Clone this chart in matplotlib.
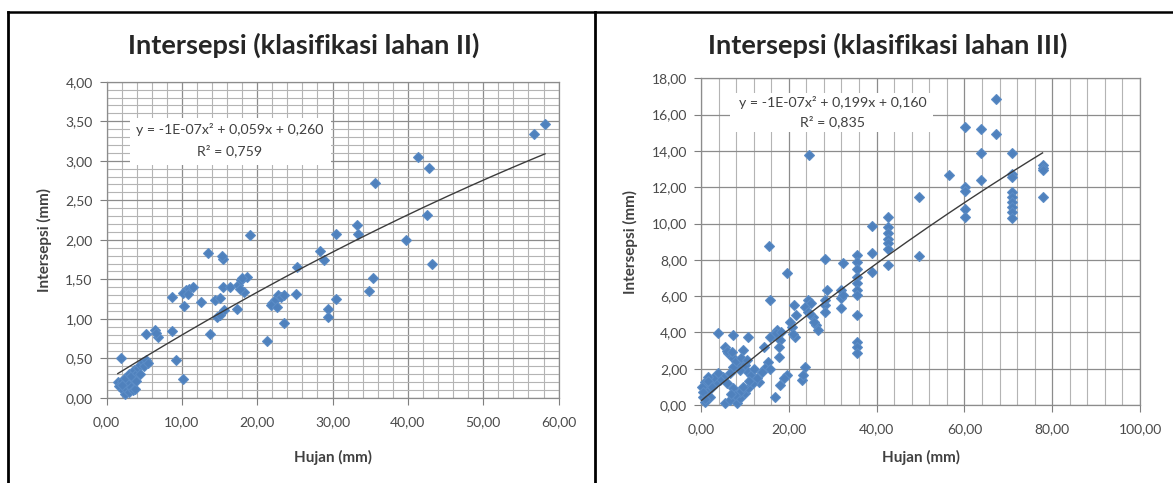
import numpy as np
import matplotlib
matplotlib.use('Agg')
import matplotlib.pyplot as plt
from matplotlib.ticker import MultipleLocator, FuncFormatter
from matplotlib.patches import Rectangle
from matplotlib.lines import Line2D

# ---------------- data ----------------
title_left = "Intersepsi (klasifikasi lahan II)"
title_right = "Intersepsi (klasifikasi lahan III)"
xlabel = "Hujan (mm)"
ylabel = "Intersepsi (mm)"
eq_left = ["y = -1E-07x² + 0,059x + 0,260", "R² = 0,759"]
eq_right = ["y = -1E-07x² + 0,199x + 0,160", "R² = 0,835"]

hujan_II = [1.5, 1.7, 2.0, 2.2, 2.4, 2.6, 2.8, 3.0, 3.2, 3.5, 3.8, 2.5, 3.0, 3.3, 3.6,
            4.0, 4.2, 4.5, 4.8, 5.0, 5.3, 5.5, 4.4, 3.9, 2.0, 1.9, 5.2, 6.4, 6.9, 6.6,
            8.65, 9.2, 10.2, 8.7, 10.3, 10.6, 10.2, 11.0, 11.5, 10.8, 12.6, 13.5, 15.4,
            15.3, 13.8, 14.4, 14.6, 15.1, 15.6, 15.4, 15.0, 16.4, 17.3, 17.5, 17.9, 18.6,
            18.2, 17.7, 18.0, 19.0, 21.3, 22.0, 22.4, 22.8, 23.2, 21.8, 22.6, 23.6, 23.6,
            25.2, 25.3, 28.4, 28.8, 29.4, 29.4, 30.5, 30.5, 33.3, 33.4, 34.9, 35.4, 35.6,
            39.7, 41.4, 42.8, 42.6, 43.2, 56.7, 58.2]
intersepsi_II = [0.20, 0.15, 0.22, 0.10, 0.05, 0.12, 0.18, 0.08, 0.14, 0.10, 0.12, 0.25,
                 0.30, 0.28, 0.35, 0.32, 0.38, 0.42, 0.45, 0.40, 0.48, 0.44, 0.30, 0.22,
                 0.17, 0.51, 0.81, 0.86, 0.77, 0.82, 0.85, 0.48, 0.245, 1.28, 1.16, 1.36,
                 1.33, 1.38, 1.40, 1.32, 1.22, 1.84, 1.76, 1.80, 0.81, 1.24, 1.03, 1.26,
                 1.11, 1.40, 1.05, 1.40, 1.12, 1.43, 1.49, 1.53, 1.34, 1.38, 1.52, 2.06,
                 0.72, 1.20, 1.24, 1.30, 1.28, 1.18, 1.15, 1.30, 0.95, 1.31, 1.66, 1.86,
                 1.75, 1.13, 1.02, 1.25, 2.08, 2.19, 2.07, 1.35, 1.52, 2.72, 2.00, 3.05,
                 2.91, 2.31, 1.69, 3.34, 3.47]

hujan_III = [67.1, 60.1, 63.7, 67.1, 63.7, 70.8, 77.8, 77.8, 77.8, 70.8, 70.8, 63.7, 56.6,
             60.1, 60.1, 77.8, 49.7, 70.8, 70.8, 70.8, 70.8, 70.8, 70.8, 60.1, 60.1, 49.7,
             42.7, 42.7, 42.7, 42.7, 42.7, 42.7, 42.7, 39.0, 39.0, 39.0,
             35.5, 35.5, 35.5, 35.5, 35.5, 35.5, 35.5, 35.5, 35.5, 35.5, 35.5,
             32.4, 32.0, 32.0, 32.0, 32.4, 24.6, 15.6, 19.5, 28.2,
             28.6, 28.2, 28.2, 28.2, 24.4, 23.7, 24.4, 25.4, 26.2, 26.7, 25.7, 25.0, 24.9,
             21.2, 21.6, 20.7, 21.4, 20.3, 21.0, 17.4, 16.5, 18.0, 15.7, 17.8, 17.8, 15.7,
             17.0, 18.3, 23.7, 22.9, 23.3, 19.5, 18.0, 16.9, 19.0, 14.3, 15.3, 14.6, 13.8,
             13.1, 15.8,
             3.9, 7.2, 10.8, 5.47, 6.2, 7.4, 8.5, 9.6, 10.0, 10.8, 11.5, 8.9, 7.4, 6.6, 5.1,
             4.3, 3.2, 2.05, 1.3, 0.5, 0.9, 2.05, 5.47, 6.6, 8.1, 8.9, 10.0, 10.8, 11.9,
             12.7, 3.9, 2.8, 5.85, 7.4, 8.9, 0.9, 1.7, 0.15, 6.0, 7.0, 8.0, 9.0, 10.5, 12.0,
             11.0, 9.5, 7.8, 6.8, 1.5, 2.5, 0.4, 1.0]
intersepsi_III = [16.88, 15.32, 15.23, 14.91, 13.89, 13.89, 13.20, 13.05, 12.95, 12.71, 12.57,
                  12.42, 12.66, 12.01, 11.79, 11.46, 11.46, 11.74, 11.46, 11.19, 10.91, 10.64,
                  10.28, 10.82, 10.37, 8.20,
                  10.37, 9.81, 9.45, 9.17, 8.90, 8.62, 7.70, 9.85, 8.35, 7.34,
                  8.26, 7.89, 7.52, 7.06, 6.70, 6.33, 6.05, 4.95, 3.48, 3.17, 2.88,
                  7.83, 6.33, 5.87, 5.32, 6.05, 13.76, 8.75, 7.25, 8.02,
                  6.33, 5.50, 5.14, 5.78, 5.78, 5.41, 5.14, 4.86, 4.40, 4.13, 4.58, 5.60, 5.00,
                  5.50, 4.95, 4.31, 3.76, 4.58, 3.90, 4.13, 3.85, 3.58, 3.76, 3.21, 2.66, 5.78,
                  3.95, 4.00, 2.11, 1.38, 1.65, 1.65, 1.10, 0.46, 1.50, 3.21, 2.38, 2.02, 1.83,
                  1.28, 2.00,
                  3.94, 3.85, 3.72, 3.21, 2.84, 2.57, 2.29, 3.03, 2.20, 1.83, 1.65, 1.93, 2.11,
                  1.74, 1.56, 1.38, 1.19, 1.01, 0.73, 0.46, 0.18, 0.46, 0.09, 0.28, 0.09, 0.37,
                  0.64, 0.92, 1.19, 1.47, 1.74, 1.47, 1.19, 0.92, 0.73, 1.28, 1.56, 1.01, 3.00,
                  2.90, 2.40, 2.60, 2.50, 2.00, 1.30, 1.00, 0.55, 0.60, 1.30, 1.00, 0.70, 0.35]

# ---------------- figure ----------------
W, H = 1173, 483
fig = plt.figure(figsize=(W / 100, H / 100), dpi=100)
fig.patch.set_facecolor('white')

def fx(px):
    return px / W

def fy(py):
    return 1 - py / H

FONT = ['Lato', 'DejaVu Sans']
BLUE = '#4F81BD'
fmt = FuncFormatter(lambda v, p: f"{v:.2f}".replace('.', ','))


def make_axes(x0, x1, y_top, y_bot):
    return fig.add_axes([fx(x0), fy(y_bot), fx(x1) - fx(x0), fy(y_top) - fy(y_bot)])


def style(ax, xmax, xmaj, xmin, ymax, ymaj, ymin):
    ax.set_xlim(0, xmax)
    ax.set_ylim(0, ymax)
    ax.xaxis.set_major_locator(MultipleLocator(xmaj))
    ax.xaxis.set_minor_locator(MultipleLocator(xmin))
    ax.yaxis.set_major_locator(MultipleLocator(ymaj))
    if ymin:
        ax.yaxis.set_minor_locator(MultipleLocator(ymin))
    ax.xaxis.set_major_formatter(fmt)
    ax.yaxis.set_major_formatter(fmt)
    ax.set_axisbelow(True)
    ax.grid(which='major', axis='both', color='#8c8c8c', lw=0.9)
    ax.grid(which='minor', axis='x', color='#b4b4b4', lw=0.8)
    if ymin:
        ax.grid(which='minor', axis='y', color='#b4b4b4', lw=0.8)
    ax.tick_params(which='major', direction='out', length=5, width=0.8,
                   color='#7f7f7f', labelsize=10, labelcolor='#4a4a4a')
    ax.tick_params(axis='x', which='major', pad=8)
    ax.tick_params(axis='y', which='major', pad=5)
    ax.tick_params(which='minor', length=0)
    for lab in ax.get_xticklabels() + ax.get_yticklabels():
        lab.set_fontfamily(FONT)
    for s in ax.spines.values():
        s.set_color('#8c8c8c')
        s.set_linewidth(0.9)


def scatter_fit(ax, x, y):
    ax.plot(x, y, linestyle='none', marker='D', ms=5.4, color=BLUE,
            mec='#5b8cc6', mew=0.8, zorder=3, clip_on=False)
    xa = np.array(x)
    ya = np.array(y)
    c = np.polyfit(xa, ya, 2)
    xs = np.linspace(xa.min(), xa.max(), 200)
    ax.plot(xs, np.polyval(c, xs), color='#3c3c3c', lw=1.0, zorder=4)


# left chart
axL = make_axes(106.5, 558.6, 81.7, 398.0)
style(axL, 60, 10, 2, 4, 0.5, 0.1)
scatter_fit(axL, hujan_II, intersepsi_II)

# right chart
axR = make_axes(701.0, 1140.0, 78.3, 405.0)
style(axR, 100, 20, 4, 18, 2, None)
scatter_fit(axR, hujan_III, intersepsi_III)

# titles
fig.text(fx(304), fy(45), title_left, ha='center', va='center',
         fontsize=19.5, fontweight='bold', color='#262626', family=FONT)
fig.text(fx(888), fy(45), title_right, ha='center', va='center',
         fontsize=19.5, fontweight='bold', color='#262626', family=FONT)

# axis labels
for cx in (332.5, 920.5):
    fig.text(fx(cx), fy(457), xlabel, ha='center', va='center', fontsize=11,
             fontweight='bold', color='#404040', family=FONT)
for cx, cy in ((44, 240), (630, 242)):
    fig.text(fx(cx), fy(cy), ylabel, ha='center', va='center', fontsize=11,
             fontweight='bold', color='#404040', rotation=90, family=FONT)

# equation boxes
for (bx0, by0, bx1, by1), (cx, cy1, cy2), eq in (
        ((130, 118, 331, 165), (230, 130, 151), eq_left),
        ((730, 93, 933, 132), (833, 102.7, 121.7), eq_right)):
    rect = Rectangle((fx(bx0), fy(by1)), fx(bx1) - fx(bx0), fy(by0) - fy(by1),
                     transform=fig.transFigure, facecolor='white', edgecolor='none',
                     zorder=5)
    fig.add_artist(rect)
    fig.text(fx(cx), fy(cy1), eq[0], ha='center', va='center', fontsize=10.2,
             color='#404040', family=FONT, zorder=6)
    fig.text(fx(cx), fy(cy2), eq[1], ha='center', va='center', fontsize=10.2,
             color='#404040', family=FONT, zorder=6)

# outer frame lines
for xs, ys, lw in (((fx(8.3), fx(8.3)), (fy(11.7), 0), 2.0),
                   ((fx(7.5), 1), (fy(11.7), fy(11.7)), 1.8),
                   ((fx(595), fx(595)), (fy(11.7), 0), 2.0)):
    fig.add_artist(Line2D(xs, ys, transform=fig.transFigure, color='black', lw=lw))

fig.savefig('out.png', dpi=100, facecolor='white')
